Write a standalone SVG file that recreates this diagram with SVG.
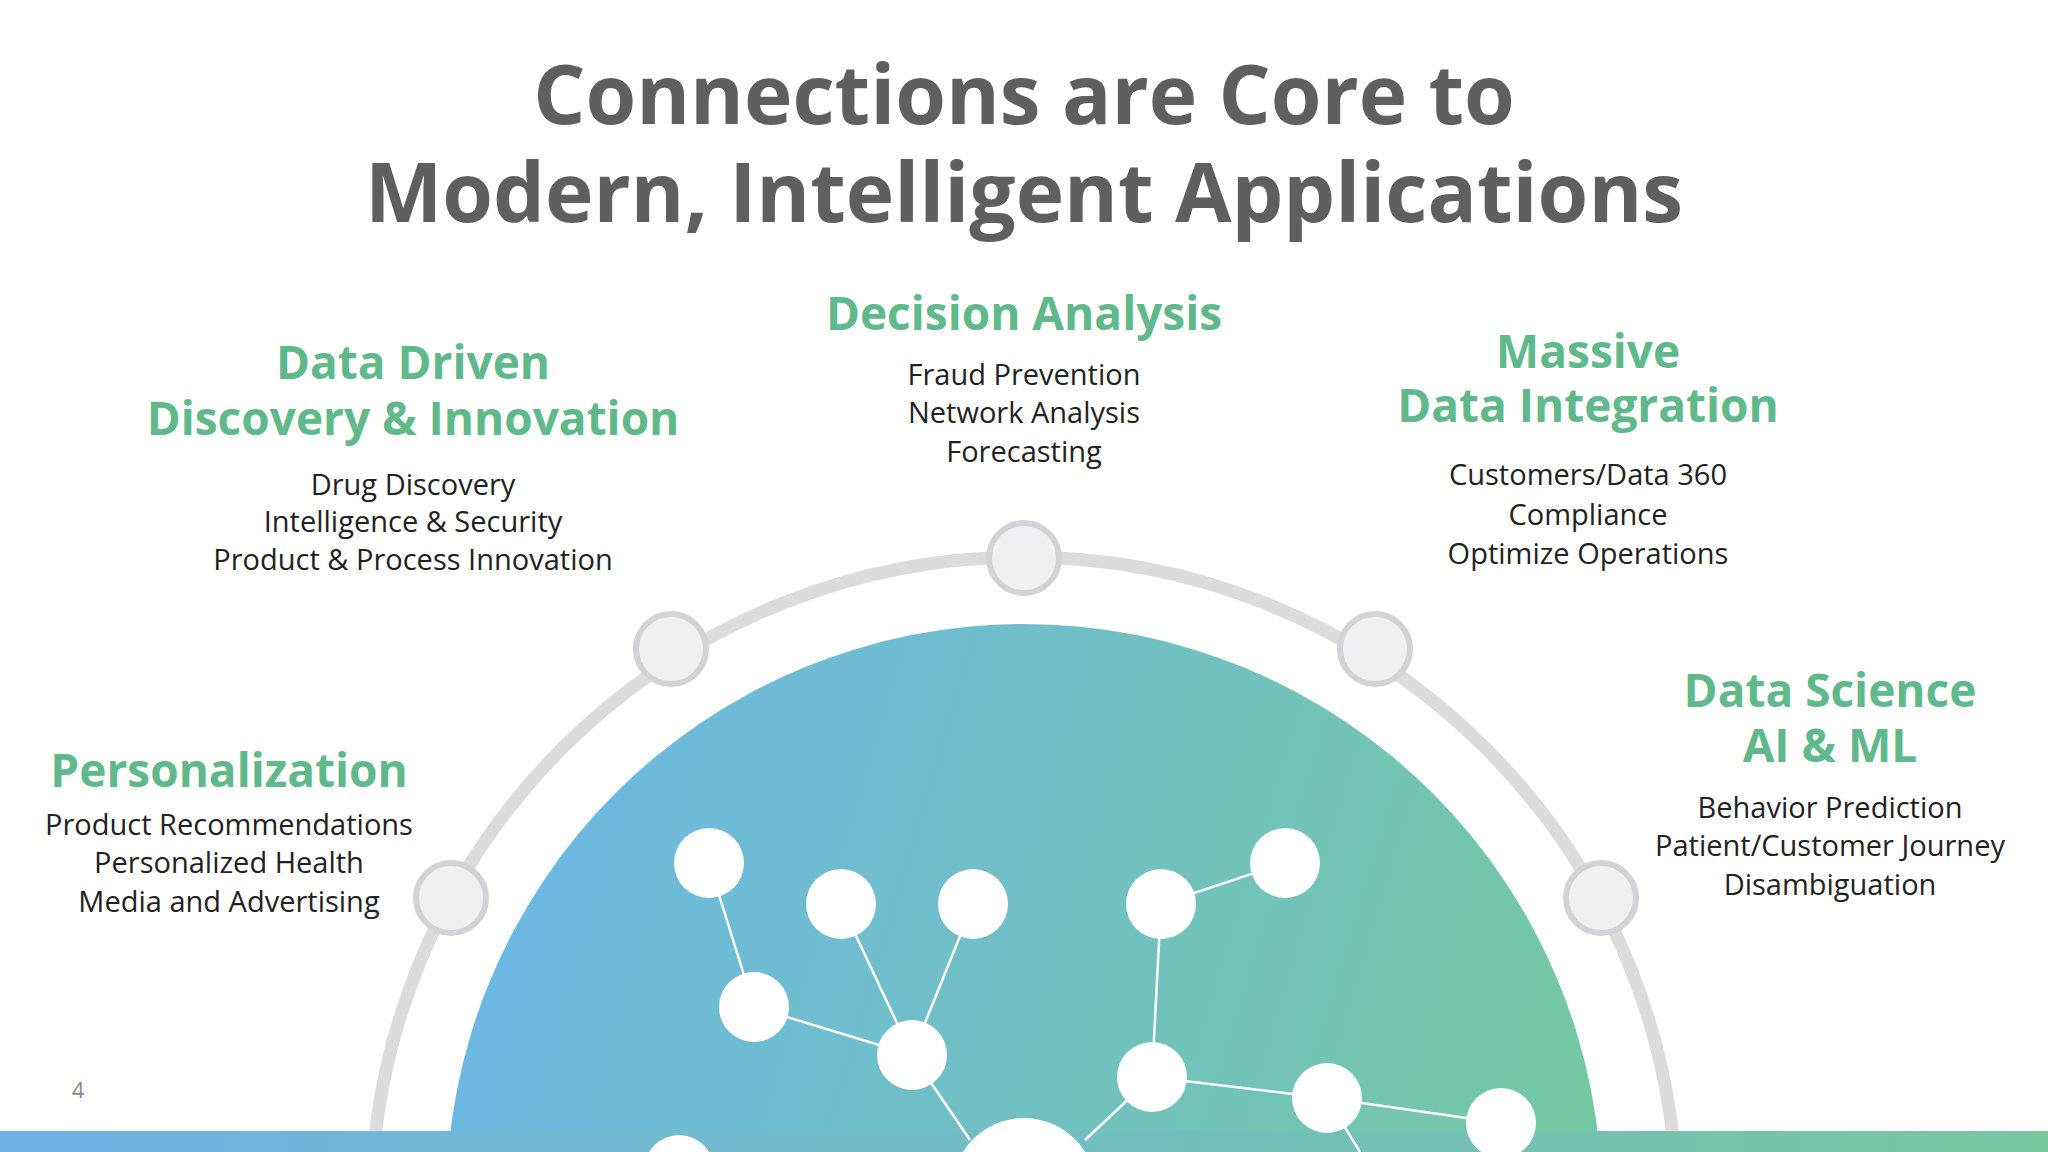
<svg xmlns="http://www.w3.org/2000/svg" width="2048" height="1152" viewBox="0 0 2048 1152">
<defs>
<linearGradient id="g" x1="0" y1="0" x2="1" y2="0.3"><stop offset="0" stop-color="#6cb6ea"/><stop offset="1" stop-color="#74c8a4"/></linearGradient>
<linearGradient id="bar" x1="0" y1="0" x2="1" y2="0"><stop offset="0" stop-color="#6fb3e6"/><stop offset="1" stop-color="#76c7a0"/></linearGradient>
<style>
.t{font-family:"Open Sans","Liberation Sans",sans-serif;font-weight:700;fill:#5f5f5f;font-size:82px;text-anchor:middle}
.h{font-family:"Open Sans","Liberation Sans",sans-serif;font-weight:700;fill:#5fb98a;font-size:46px;text-anchor:middle}
.b{font-family:"Open Sans","Liberation Sans",sans-serif;fill:#222;font-size:29px;text-anchor:middle}
.dot{fill:#f0f0f3;stroke:#d3d3d7;stroke-width:6}
.n{fill:#fff}
.l{stroke:#fff;stroke-width:2.5}
</style>
</defs>
<rect width="2048" height="1152" fill="#fff"/>
<text class="t" x="1024" y="124">Connections are Core to</text>
<text class="t" x="1024" y="222">Modern, Intelligent Applications</text>
<circle cx="1024" cy="1210" r="653" fill="none" stroke="#dcdcdf" stroke-width="13"/>
<circle cx="1024" cy="1202" r="578" fill="url(#g)"/>
<rect x="0" y="1131" width="2048" height="21" fill="url(#bar)"/>
<g id="connectors">
<line class="l" x1="709" y1="863" x2="754" y2="1007"/>
<line class="l" x1="754" y1="1007" x2="912" y2="1055"/>
<line class="l" x1="841" y1="904" x2="912" y2="1055"/>
<line class="l" x1="973" y1="904" x2="912" y2="1055"/>
<line class="l" x1="912" y1="1055" x2="970" y2="1140"/>
<line class="l" x1="1161" y1="904" x2="1285" y2="863"/>
<line class="l" x1="1161" y1="904" x2="1152" y2="1077"/>
<line class="l" x1="1152" y1="1077" x2="1085" y2="1140"/>
<line class="l" x1="1152" y1="1077" x2="1327" y2="1098"/>
<line class="l" x1="1327" y1="1098" x2="1501" y2="1123"/>
<line class="l" x1="1327" y1="1098" x2="1360" y2="1152"/>
</g>
<g id="network">
<circle class="n" cx="709" cy="863" r="35"/>
<circle class="n" cx="841" cy="904" r="35"/>
<circle class="n" cx="973" cy="904" r="35"/>
<circle class="n" cx="754" cy="1007" r="35"/>
<circle class="n" cx="912" cy="1055" r="35"/>
<circle class="n" cx="1161" cy="904" r="35"/>
<circle class="n" cx="1285" cy="863" r="35"/>
<circle class="n" cx="1152" cy="1077" r="35"/>
<circle class="n" cx="1327" cy="1098" r="35"/>
<circle class="n" cx="1501" cy="1123" r="35"/>
<circle class="n" cx="1024" cy="1190" r="72"/>
<circle class="n" cx="679" cy="1170" r="35"/>
</g>
<g id="arcdots">
<circle class="dot" cx="451" cy="898" r="35"/>
<circle class="dot" cx="671" cy="649" r="35"/>
<circle class="dot" cx="1024" cy="558" r="35"/>
<circle class="dot" cx="1375" cy="649" r="35"/>
<circle class="dot" cx="1601" cy="898" r="35"/>
</g>
<g id="data-driven">
<text class="h" x="413" y="379">Data Driven</text>
<text class="h" x="413" y="435">Discovery &amp; Innovation</text>
<text class="b" x="413" y="495">Drug Discovery</text>
<text class="b" x="413" y="532">Intelligence &amp; Security</text>
<text class="b" x="413" y="570">Product &amp; Process Innovation</text>
</g>
<g id="decision">
<text class="h" x="1024" y="330">Decision Analysis</text>
<text class="b" x="1024" y="385">Fraud Prevention</text>
<text class="b" x="1024" y="423">Network Analysis</text>
<text class="b" x="1024" y="462">Forecasting</text>
</g>
<g id="massive">
<text class="h" x="1588" y="368">Massive</text>
<text class="h" x="1588" y="422">Data Integration</text>
<text class="b" x="1588" y="485">Customers/Data 360</text>
<text class="b" x="1588" y="525">Compliance</text>
<text class="b" x="1588" y="564">Optimize Operations</text>
</g>
<g id="datascience">
<text class="h" x="1830" y="707">Data Science</text>
<text class="h" x="1830" y="762">AI &amp; ML</text>
<text class="b" x="1830" y="818">Behavior Prediction</text>
<text class="b" x="1830" y="856">Patient/Customer Journey</text>
<text class="b" x="1830" y="895">Disambiguation</text>
</g>
<g id="personalization">
<text class="h" x="229" y="787">Personalization</text>
<text class="b" x="229" y="835">Product Recommendations</text>
<text class="b" x="229" y="873">Personalized Health</text>
<text class="b" x="229" y="912">Media and Advertising</text>
</g>
<text x="78" y="1098" font-family="Open Sans, sans-serif" font-size="22" fill="#888" text-anchor="middle">4</text>
</svg>
